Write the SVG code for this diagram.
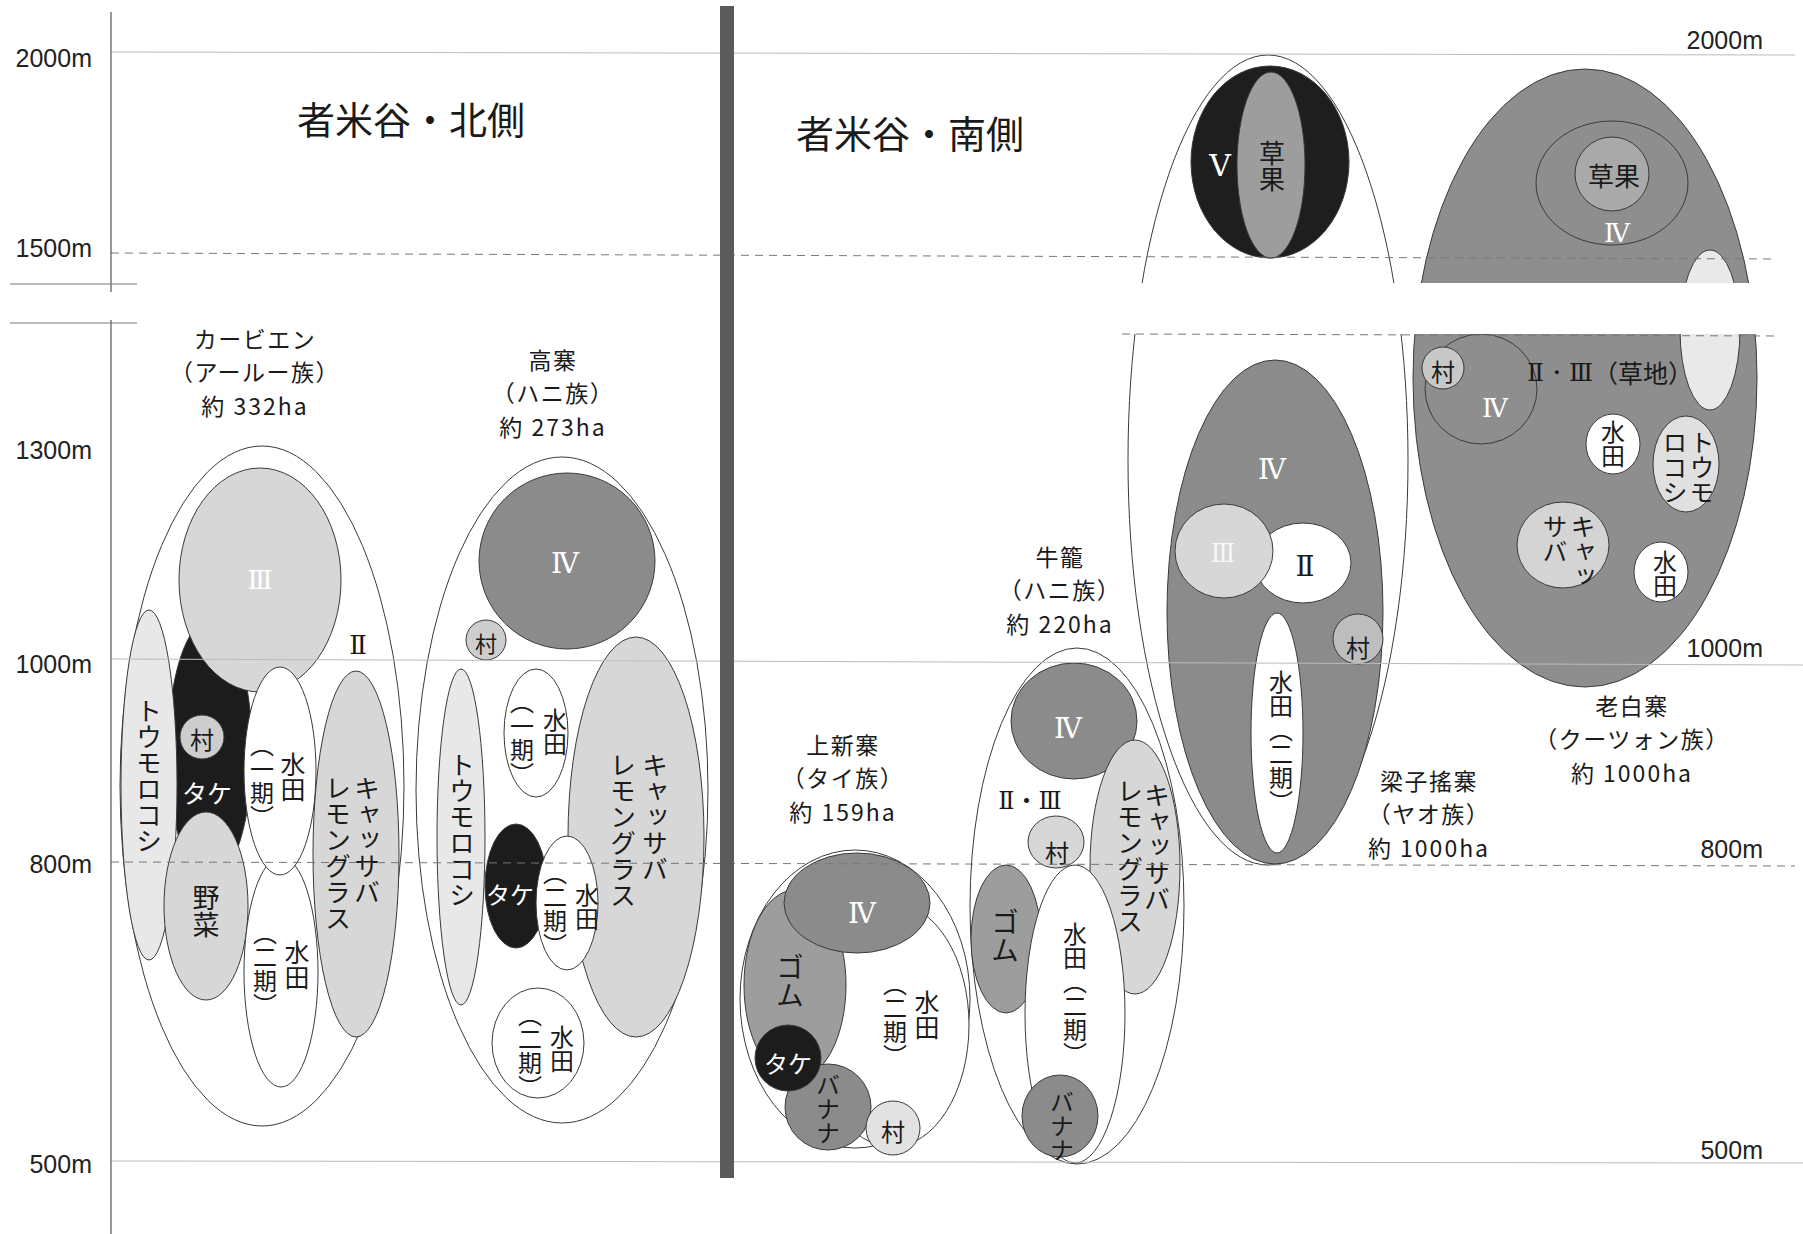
<svg xmlns="http://www.w3.org/2000/svg" width="1803" height="1234" viewBox="0 0 1803 1234">
<style>
.o{stroke:#3a3a3a;stroke-width:1}
.t{font-family:"Noto Sans CJK JP","Noto Sans CJK SC",sans-serif;fill:#1a1a1a}
.h{text-anchor:middle;dominant-baseline:central}
.v{writing-mode:vertical-rl;text-anchor:start}
.w{fill:#fff}
.r{font-family:"DejaVu Serif","Liberation Serif","Noto Sans CJK JP",serif;text-anchor:middle;dominant-baseline:central}
.halt{font-feature-settings:"halt"}
.lb{font-size:23px;letter-spacing:1.5px}
.num{letter-spacing:2px}
.ax{font-family:"Liberation Sans",Arial,sans-serif;font-size:25px;fill:#222;dominant-baseline:central}
.g4{fill:#8b8b8b}
.gm{fill:#9d9d9d}
.lt{fill:#d7d7d7}
.tm{fill:#e8e8e8}
.mu{fill:#cdcdcd}
.bk{fill:#1c1c1c}
.wh{fill:#fff}
</style>

<!-- headings -->
<text class="t h" x="411" y="117" font-size="38">者米谷・北側</text>
<text class="t h" x="910" y="131" font-size="38">者米谷・南側</text>

<!-- Group 1 カービエン -->
<g id="kabien">
  <ellipse class="o wh" cx="262" cy="786" rx="142" ry="340"/>
  <ellipse class="o bk" cx="210" cy="750" rx="42" ry="130"/>
  <ellipse class="o tm" cx="149" cy="785" rx="28" ry="175"/>
  <ellipse class="o lt" cx="260" cy="580" rx="81" ry="112"/>
  <ellipse class="o lt" cx="206" cy="906" rx="42" ry="94"/>
  <ellipse class="o wh" cx="281" cy="972" rx="37" ry="115"/>
  <ellipse class="o wh" cx="280" cy="771" rx="36" ry="104"/>
  <ellipse class="o lt" cx="356" cy="854" rx="43" ry="183"/>
  <circle class="o mu" cx="202" cy="737" r="22"/>
  <text class="r w" x="260" y="580" font-size="26">Ⅲ</text>
  <text class="r" x="358" y="645" font-size="26" fill="#1a1a1a">Ⅱ</text>
  <text class="t h" x="202" y="738" font-size="24">村</text>
  <text class="t h w" x="207" y="792" font-size="25">タケ</text>
  <text class="t v" x="149" y="698" font-size="26">トウモロコシ</text>
  <text class="t v" x="206" y="884" font-size="27">野菜</text>
  <text class="t v" x="293" y="752" font-size="25">水田</text>
  <text class="t v" x="262" y="733" font-size="24">（一期）</text>
  <text class="t v" x="297" y="940" font-size="25">水田</text>
  <text class="t v" x="265" y="921" font-size="24">（二期）</text>
  <text class="t v" x="367" y="775" font-size="26">キャッサバ</text>
  <text class="t v" x="338" y="775" font-size="26">レモングラス</text>
  <text class="t h lb"><tspan x="255" y="337.5">カービエン</tspan><tspan class="halt" x="255" y="371">（アールー族）</tspan><tspan class="num" x="255" y="404.5">約 332ha</tspan></text>
</g>

<!-- Group 2 高寨 -->
<g id="gaozhai">
  <ellipse class="o wh" cx="562" cy="790" rx="146" ry="333"/>
  <circle class="o g4" cx="567" cy="561" r="88"/>
  <circle class="o mu" cx="486" cy="640" r="20"/>
  <ellipse class="o tm" cx="461" cy="837" rx="24" ry="168"/>
  <ellipse class="o lt" cx="636" cy="837" rx="68" ry="200"/>
  <ellipse class="o wh" cx="536" cy="733" rx="32" ry="64"/>
  <ellipse class="o bk" cx="516" cy="886" rx="31" ry="62"/>
  <ellipse class="o wh" cx="567" cy="903" rx="31" ry="67"/>
  <ellipse class="o wh" cx="538" cy="1043" rx="46" ry="55"/>
  <text class="r w" x="565" y="563" font-size="28">Ⅳ</text>
  <text class="t h" x="486" y="642" font-size="22">村</text>
  <text class="t v" x="462" y="752" font-size="26">トウモロコシ</text>
  <text class="t v" x="555" y="708" font-size="24">水田</text>
  <text class="t v" x="522" y="690" font-size="24">（一期）</text>
  <text class="t v" x="655" y="752" font-size="26">キャッサバ</text>
  <text class="t v" x="623" y="752" font-size="26">レモングラス</text>
  <text class="t h w" x="510" y="893" font-size="24">タケ</text>
  <text class="t v" x="587" y="883" font-size="24">水田</text>
  <text class="t v" x="555" y="861" font-size="24">（二期）</text>
  <text class="t v" x="562" y="1025" font-size="24">水田</text>
  <text class="t v" x="530" y="1003" font-size="24">（二期）</text>
  <text class="t h lb"><tspan x="553" y="358.5">高寨</tspan><tspan class="halt" x="553" y="392">（ハニ族）</tspan><tspan class="num" x="553" y="425.5">約 273ha</tspan></text>
</g>

<!-- Group 3 上新寨 -->
<g id="shangxinzhai">
  <ellipse class="o wh" cx="855" cy="999" rx="115" ry="149"/>
  <ellipse class="o wh" cx="892" cy="1025" rx="77" ry="122"/>
  <ellipse class="o gm" cx="795" cy="985" rx="51" ry="95"/>
  <ellipse class="o g4" cx="857" cy="903" rx="73" ry="50"/>
  <circle class="o g4" cx="828" cy="1107" r="43"/>
  <circle class="o bk" cx="788" cy="1058" r="33"/>
  <circle class="o" cx="893" cy="1128" r="27" fill="#e2e2e2"/>
  <text class="r w" x="862" y="913" font-size="28">Ⅳ</text>
  <text class="t v" x="790" y="953" font-size="28">ゴム</text>
  <text class="t v" x="927" y="990" font-size="25">水田</text>
  <text class="t v" x="895" y="972" font-size="24">（二期）</text>
  <text class="t h w" x="788" y="1062" font-size="24">タケ</text>
  <text class="t v" x="828" y="1073" font-size="24">バナナ</text>
  <text class="t h" x="893" y="1130" font-size="24">村</text>
  <text class="t h lb"><tspan x="843" y="743.5">上新寨</tspan><tspan class="halt" x="843" y="777">（タイ族）</tspan><tspan class="num" x="843" y="810.5">約 159ha</tspan></text>
</g>

<!-- Group 4 牛籠 -->
<g id="niulong">
  <ellipse class="o wh" cx="1077" cy="906" rx="107" ry="258"/>
  <ellipse class="o g4" cx="1074" cy="721" rx="63" ry="58"/>
  <ellipse class="o lt" cx="1135" cy="867" rx="45" ry="127"/>
  <ellipse class="o gm" cx="1006" cy="939" rx="35" ry="74"/>
  <ellipse class="o wh" cx="1075" cy="1014" rx="50" ry="149"/>
  <ellipse class="o g4" cx="1060" cy="1116" rx="38" ry="41"/>
  <ellipse class="o lt" cx="1056" cy="842" rx="28" ry="26"/>
  <text class="r w" x="1068" y="728" font-size="28">Ⅳ</text>
  <text class="r" x="1030" y="801" font-size="24" fill="#1a1a1a">Ⅱ・Ⅲ</text>
  <text class="t h" x="1057" y="851" font-size="24">村</text>
  <text class="t v" x="1157" y="782" font-size="26">キャッサバ</text>
  <text class="t v" x="1130" y="778" font-size="26">レモングラス</text>
  <text class="t v" x="1005" y="908" font-size="28">ゴム</text>
  <text class="t v" x="1075" y="922" font-size="24">水田（二期）</text>
  <text class="t v" x="1062" y="1090" font-size="24">バナナ</text>
  <text class="t h lb"><tspan x="1060" y="555.5">牛籠</tspan><tspan class="halt" x="1060" y="589">（ハニ族）</tspan><tspan class="num" x="1060" y="622.5">約 220ha</tspan></text>
</g>

<!-- Group 5 梁子搖寨 -->
<g id="liangziyaozhai">
  <ellipse class="o wh" cx="1268" cy="460" rx="140" ry="405"/>
  <ellipse class="o" cx="1270" cy="162" rx="79" ry="96" fill="#1e1e1e"/>
  <ellipse class="o gm" cx="1271" cy="165" rx="34" ry="93"/>
  <ellipse class="o g4" cx="1275" cy="612" rx="108" ry="252"/>
  <ellipse class="o wh" cx="1303" cy="563" rx="48" ry="40"/>
  <ellipse class="o lt" cx="1224" cy="551" rx="49" ry="47"/>
  <circle class="o" cx="1358" cy="639" r="25" fill="#bdbdbd"/>
  <ellipse class="o wh" cx="1277" cy="733" rx="26" ry="120"/>
  <text class="r w" x="1220" y="165" font-size="30">V</text>
  <text class="t v" x="1272" y="140" font-size="26">草果</text>
  <text class="r w" x="1272" y="469" font-size="28">Ⅳ</text>
  <text class="r w" x="1223" y="553" font-size="26" opacity="0.8">Ⅲ</text>
  <text class="r" x="1305" y="566" font-size="28" fill="#1a1a1a">Ⅱ</text>
  <text class="t h" x="1358" y="646" font-size="24">村</text>
  <text class="t v" x="1281" y="670" font-size="24">水田（二期）</text>
  <text class="t h lb"><tspan x="1429" y="779.5">梁子搖寨</tspan><tspan class="halt" x="1429" y="813">（ヤオ族）</tspan><tspan class="num" x="1429" y="846.5">約 1000ha</tspan></text>
</g>

<!-- Group 6 老白寨 -->
<g id="laobaizhai">
  <ellipse class="o" cx="1585" cy="378" rx="172" ry="309" fill="#8e8e8e"/>
  <ellipse class="o" cx="1710" cy="330" rx="30" ry="80" fill="#e9e9e9"/>
  <ellipse class="o" cx="1612" cy="183" rx="76" ry="62" fill="none"/>
  <circle class="o" cx="1612" cy="174" r="37" fill="#a9a9a9"/>
  <ellipse class="o" cx="1481" cy="389" rx="56" ry="55" fill="none"/>
  <circle class="o" cx="1443" cy="368" r="21" fill="#c8c8c8"/>
  <ellipse class="o wh" cx="1613" cy="444" rx="27" ry="30"/>
  <ellipse class="o" cx="1686" cy="464" rx="33" ry="48" fill="#e0e0e0"/>
  <ellipse class="o" cx="1563" cy="545" rx="46" ry="43" fill="#d4d4d4"/>
  <ellipse class="o wh" cx="1661" cy="572" rx="27" ry="30"/>
  <text class="t h" x="1614" y="174" font-size="26">草果</text>
  <text class="r w" x="1617" y="233" font-size="26">Ⅳ</text>
  <text class="r w" x="1495" y="408" font-size="26">Ⅳ</text>
  <text class="t h" x="1443" y="370" font-size="24">村</text>
  <text class="t v" x="1613" y="420" font-size="24">水田</text>
  <text class="t v" x="1702" y="430" font-size="25">トウモ</text>
  <text class="t v" x="1675" y="430" font-size="25">ロコシ</text>
  <text class="t v" x="1583" y="514" font-size="25">キャッ</text>
  <text class="t v" x="1555" y="514" font-size="25">サバ</text>
  <text class="t v" x="1665" y="550" font-size="24">水田</text>
  <text class="t h" x="1610" y="372" font-size="25"><tspan font-family="DejaVu Serif,Liberation Serif,serif">Ⅱ・Ⅲ</tspan>（草地）</text>
  <text class="t h lb"><tspan x="1632" y="704.5">老白寨</tspan><tspan class="halt" x="1632" y="738">（クーツォン族）</tspan><tspan class="num" x="1632" y="771.5">約 1000ha</tspan></text>
</g>

<!-- axis, grid lines, break -->
<g id="axis">
  <rect x="1122" y="283" width="670" height="51" fill="#fff"/>
  <line x1="1122" y1="334" x2="1777" y2="336" stroke="#777" stroke-width="1" stroke-dasharray="8,6"/>
  <line x1="111" y1="52" x2="1795" y2="55" stroke="#bbb" stroke-width="1"/>
  <line x1="111" y1="253" x2="1777" y2="259" stroke="#777" stroke-width="1" stroke-dasharray="8,6"/>
  <line x1="111" y1="659" x2="1803" y2="665" stroke="#bbb" stroke-width="1"/>
  <line x1="111" y1="862" x2="1795" y2="866" stroke="#777" stroke-width="1" stroke-dasharray="8,6"/>
  <line x1="111" y1="1161" x2="1803" y2="1163" stroke="#bbb" stroke-width="1"/>
  <line x1="111" y1="12" x2="111" y2="292" stroke="#555" stroke-width="1.2"/>
  <line x1="111" y1="320" x2="111" y2="1234" stroke="#555" stroke-width="1.2"/>
  <line x1="10" y1="284" x2="137" y2="284" stroke="#777" stroke-width="1"/>
  <line x1="10" y1="323" x2="137" y2="323" stroke="#777" stroke-width="1"/>
  <rect x="720" y="6" width="14" height="1172" fill="#5a5a5a"/>
  <text class="ax" x="92" y="58" text-anchor="end">2000m</text>
  <text class="ax" x="92" y="248" text-anchor="end">1500m</text>
  <text class="ax" x="92" y="450" text-anchor="end">1300m</text>
  <text class="ax" x="92" y="664" text-anchor="end">1000m</text>
  <text class="ax" x="92" y="864" text-anchor="end">800m</text>
  <text class="ax" x="92" y="1164" text-anchor="end">500m</text>
  <text class="ax" x="1763" y="40" text-anchor="end">2000m</text>
  <text class="ax" x="1763" y="648" text-anchor="end">1000m</text>
  <text class="ax" x="1763" y="849" text-anchor="end">800m</text>
  <text class="ax" x="1763" y="1150" text-anchor="end">500m</text>
</g>
</svg>
